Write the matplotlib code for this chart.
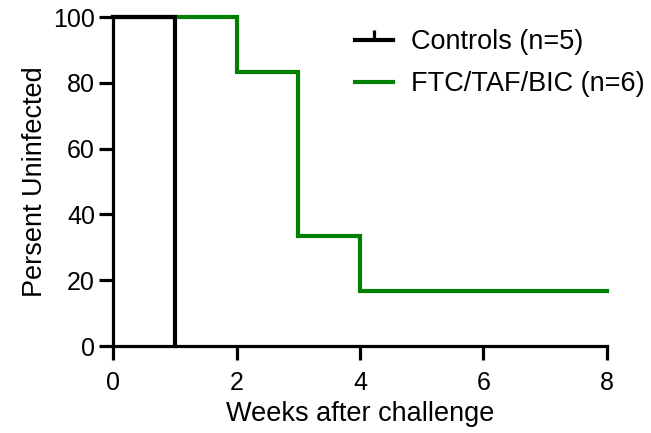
import matplotlib.pyplot as plt
from matplotlib.lines import Line2D

plt.rcParams['font.family'] = ['Liberation Sans', 'DejaVu Sans']

ctrl_weeks = [0, 1, 1]
ctrl_pct = [100, 100, 0]
ftc_weeks = [0, 2, 2, 3, 3, 4, 4, 8]
ftc_pct = [100, 100, 83.33, 83.33, 33.33, 33.33, 16.67, 16.67]

labels = ['Controls (n=5)', 'FTC/TAF/BIC (n=6)']
xticks = [0, 2, 4, 6, 8]
yticks = [0, 20, 40, 60, 80, 100]

fig = plt.figure(figsize=(6.51, 4.33), dpi=100)
ax = fig.add_axes([0.1736, 0.2009, 0.7588, 0.7598])

green = '#008000'
ax.plot(ftc_weeks, ftc_pct, color=green, lw=3, solid_joinstyle='miter', clip_on=False)
ax.plot(ctrl_weeks, ctrl_pct, color='black', lw=3, solid_joinstyle='miter', clip_on=False)

ax.set_xlim(0, 8)
ax.set_ylim(0, 100)
ax.set_xticks(xticks)
ax.set_yticks(yticks)
ax.tick_params(direction='out', width=2.3, length=10, labelsize=18, pad=3)
ax.tick_params(axis='x', pad=8)
for s in ['top', 'right']:
    ax.spines[s].set_visible(False)
for s in ['left', 'bottom']:
    ax.spines[s].set_linewidth(2.3)
ax.set_xlabel('Weeks after challenge', fontsize=19.5, labelpad=4)
ax.set_ylabel('Persent Uninfected', fontsize=19.5, labelpad=4)

handles = [Line2D([], [], color='black', lw=3, marker=2, markersize=7, markeredgewidth=2.3),
           Line2D([], [], color=green, lw=3)]
fig.legend(handles, labels, loc='upper left', bbox_to_anchor=(355 / 651, 1 - 29 / 433),
           frameon=False, borderpad=0, borderaxespad=0, fontsize=19.5,
           handlelength=1.4, handletextpad=0.65, labelspacing=0.6)

fig.savefig('out.png', dpi=100)
